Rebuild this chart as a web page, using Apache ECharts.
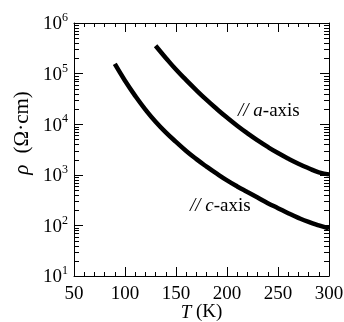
<!DOCTYPE html>
<html>
<head>
<meta charset="utf-8">
<script src="https://cdn.jsdelivr.net/npm/echarts@6/dist/echarts.min.js"></script>
<style>
  html, body { margin: 0; padding: 0; background: #fff; }
  #chart { width: 344px; height: 322px; }
</style>
</head>
<body>
<div id="chart"></div>
<script>
// resistivity along a-axis (Ohm cm) vs temperature (K)
const tempA = [130, 140, 150, 160, 170, 180, 190, 200, 210, 220, 230, 240, 250, 260, 270, 280, 290, 300];
const rhoA = [355000, 204000, 120000, 74100, 46800, 30200, 20000, 13500, 9330, 6610, 4790, 3550, 2690, 2090, 1660, 1350, 1120, 1020];

// resistivity along c-axis
const tempC = [90, 100, 110, 120, 130, 140, 150, 160, 170, 180, 190, 200, 210, 220, 230, 240, 250, 260, 270, 280, 290, 300];
const rhoC = [154900, 72400, 36300, 19500, 11200, 6920, 4470, 2950, 2040, 1450, 1050, 776, 589, 457, 355, 275, 219, 174, 141, 117, 100, 87];

const decades = [10, 100, 1000, 10000, 100000];
const minorSteps = [2, 3, 4, 5, 6, 7, 8, 9];

const font = "Liberation Serif";
const black = "#000";

// log minor ticks at 2..9 x 10^n, drawn through the y scale
const minorVals = [];
decades.forEach((d) => minorSteps.forEach((m) => minorVals.push([50, m * d])));

const chart = echarts.init(document.getElementById("chart"));

const baseX = {
  type: "value",
  min: 50,
  max: 300,
  interval: 50,
  axisLine: { show: true, lineStyle: { color: black, width: 1 } },
  axisTick: { show: true, inside: true, length: 9, lineStyle: { color: black } },
  minorTick: { show: true, splitNumber: 5, length: 4, lineStyle: { color: black } },
  splitLine: { show: false },
};

const baseY = {
  type: "log",
  logBase: 10,
  min: 10,
  max: 1000000,
  axisLine: { show: true, lineStyle: { color: black, width: 1 } },
  axisTick: { show: true, inside: true, length: 9, lineStyle: { color: black } },
  splitLine: { show: false },
};

const option = {
  animation: false,
  grid: { left: 74, right: 15, top: 23, bottom: 46, outerBoundsMode: "none", containLabel: false },
  xAxis: [
    {
      ...baseX,
      position: "bottom",
      axisLabel: { color: black, fontSize: 19, fontFamily: font, margin: 9 },
      name: "{i|T} (K)",
      nameLocation: "middle",
      nameGap: 27,
      nameMoveOverlap: false,
      nameTextStyle: {
        color: black,
        fontSize: 19,
        fontFamily: font,
        rich: { i: { fontStyle: "italic", fontSize: 19, fontFamily: font, color: black } },
      },
    },
    { ...baseX, position: "top", axisLabel: { show: false } },
  ],
  yAxis: [
    {
      ...baseY,
      position: "left",
      axisLabel: {
        color: black,
        margin: 6,
        formatter: (v) => "{b|10}{e|" + Math.round(Math.log10(v)) + "}",
        rich: {
          b: { fontSize: 19, fontFamily: font, color: black, verticalAlign: "bottom" },
          e: { fontSize: 12, fontFamily: font, color: black, verticalAlign: "bottom", padding: [0, 0, 10, 0] },
        },
      },
    },
    { ...baseY, position: "right", axisLabel: { show: false } },
  ],
  graphic: [
    {
      type: "text",
      x: 22,
      y: 133,
      rotation: Math.PI / 2,
      style: {
        text: "{i|ρ} (Ω·cm)",
        fill: black,
        font: "21px " + font,
        align: "center",
        verticalAlign: "middle",
        rich: { i: { fontStyle: "italic", fontSize: 21, fontFamily: font, fill: black, padding: [0, 6, 0, 0] } },
      },
    },
    {
      type: "text",
      x: 238,
      y: 111,
      style: {
        text: "{i|// a}-axis",
        fill: black,
        font: "19px " + font,
        verticalAlign: "middle",
        rich: { i: { fontStyle: "italic", fontSize: 19, fontFamily: font, fill: black } },
      },
    },
    {
      type: "text",
      x: 190,
      y: 206,
      style: {
        text: "{i|// c}-axis",
        fill: black,
        font: "19px " + font,
        verticalAlign: "middle",
        rich: { i: { fontStyle: "italic", fontSize: 19, fontFamily: font, fill: black } },
      },
    },
  ],
  series: [
    {
      name: "a-axis",
      type: "line",
      data: tempA.map((t, i) => [t, rhoA[i]]),
      smooth: true,
      symbol: "none",
      lineStyle: { color: black, width: 4.5 },
    },
    {
      name: "c-axis",
      type: "line",
      data: tempC.map((t, i) => [t, rhoC[i]]),
      smooth: true,
      symbol: "none",
      lineStyle: { color: black, width: 4.5 },
    },
    {
      type: "custom",
      data: minorVals,
      silent: true,
      renderItem: (params, api) => {
        const l = api.coord([50, api.value(1)]);
        const r = api.coord([300, api.value(1)]);
        const y = Math.round(l[1]) + 0.5;
        return {
          type: "group",
          children: [
            { type: "line", shape: { x1: l[0], y1: y, x2: l[0] + 5, y2: y }, style: { stroke: black, lineWidth: 1 } },
            { type: "line", shape: { x1: r[0], y1: y, x2: r[0] - 5, y2: y }, style: { stroke: black, lineWidth: 1 } },
          ],
        };
      },
    },
  ],
};

chart.setOption(option);
window.addEventListener("resize", () => chart.resize());
</script>
</body>
</html>
